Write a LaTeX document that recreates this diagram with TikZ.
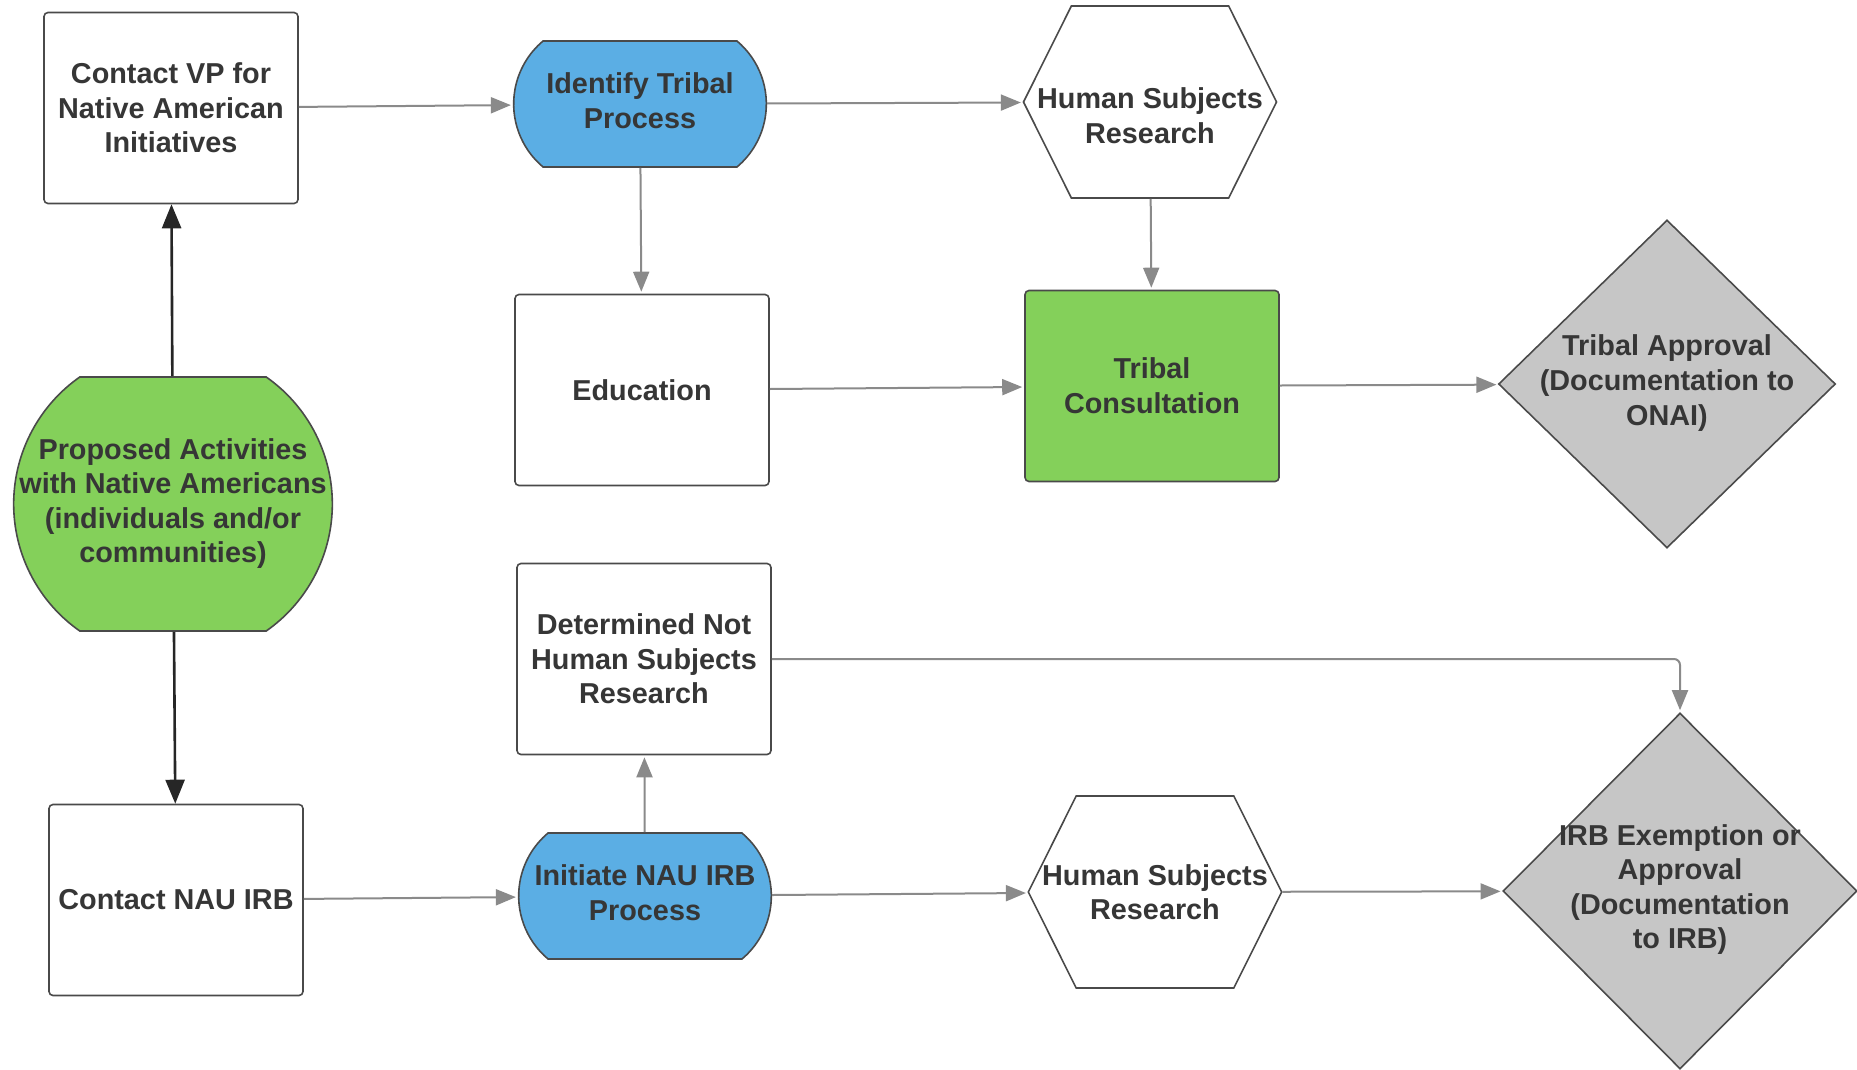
\documentclass[tikz,border=0pt]{standalone}
\usepackage{fontspec}
\setmainfont{Liberation Sans}
\usetikzlibrary{shapes.geometric, shapes.misc, shapes.symbols, arrows.meta}

\definecolor{boxline}{HTML}{4A4A4A}
\definecolor{txt}{HTML}{363636}
\definecolor{lgreen}{HTML}{84D05A}
\definecolor{lblue}{HTML}{5BAEE4}
\definecolor{lgray}{HTML}{C6C6C6}
\definecolor{arrowgray}{HTML}{8A8A8A}
% text that may run into the curved ends of a pill
\newcommand*{\Narrow}[2][0pt]{\makebox[#1][c]{\begin{tabular}{@{}c@{}}#2\end{tabular}}}

\begin{document}
\begin{tikzpicture}[x=0.5pt, y=-0.5pt,
    every node/.style={font=\fontsize{14.4}{17.3}\selectfont\bfseries, text=txt, align=center},
    stepbox/.style={draw=boxline, line width=0.8pt, rounded corners=2pt, fill=white, minimum width=127pt, minimum height=95.5pt},
    processpill/.style={rounded rectangle, rounded rectangle arc length=100, draw=boxline, line width=0.8pt, fill=lblue, minimum width=133pt, minimum height=63pt},
    startbox/.style={rounded rectangle, rounded rectangle arc length=110, draw=boxline, line width=0.8pt, fill=lgreen, minimum width=166pt, minimum height=127pt},
    hexbox/.style={signal, signal to=west and east, signal pointer angle=127, draw=boxline, line width=0.8pt, fill=white, inner xsep=-17pt, minimum width=126.5pt, minimum height=96pt},
    decision/.style={diamond, draw=boxline, line width=0.8pt, fill=lgray, inner sep=0pt},
    flow/.style={draw=arrowgray, line width=1pt, -{Triangle[length=10pt, width=8pt, fill=arrowgray]}, shorten >=1pt},
    mainflow/.style={draw=black!85, line width=1.3pt, -{Triangle[length=12pt, width=9.5pt]}}]
    \useasboundingbox (0,0) rectangle (1857,1070);
    % Left column
    \node[startbox] (proposed) at (173,504) {\Narrow{Proposed Activities\\with Native Americans\\(individuals and/or\\communities)}};
    \node[stepbox] (vp) at (171,108) {Contact VP for\\Native American\\Initiatives};
    \node[stepbox] (nauirb) at (176,900) {Contact NAU IRB};
    % Middle column
    \node[processpill] (identify) at (640,104) {\Narrow{Identify Tribal\\Process}};
    \node[stepbox] (education) at (642,390) {Education};
    \node[stepbox] (nothsr) at (644,659) {Determined Not\\Human Subjects\\Research};
    \node[processpill] (initiate) at (645,896) {\Narrow{Initiate NAU IRB\\Process}};
    % Right column
    \node[hexbox, label={[yshift=-7pt]center:{Human Subjects\\Research}}] (hsrtop) at (1150,102) {};
    \node[stepbox, fill=lgreen] (consult) at (1152,386) {Tribal\\Consultation};
    \node[hexbox] (hsrbottom) at (1155,892) {Human Subjects\\Research};
    \node[decision, minimum width=168.5pt, minimum height=164pt,
        label={[yshift=0.5pt]center:{Tribal Approval\\(Documentation to\\ONAI)}}] (tribalok) at (1667,384) {};
    \node[decision, minimum width=177pt, minimum height=178pt,
        label={[yshift=0.7pt]center:{IRB Exemption or\\Approval\\(Documentation\\to IRB)}}] (irbok) at (1680,891) {};
    % Dark arrows
    \draw[mainflow] (proposed) -- (vp);
    \draw[mainflow] (proposed) -- (nauirb);
    % Tribal path
    \draw[flow] (vp) -- (identify);
    \draw[flow] (identify) -- (hsrtop);
    \draw[flow] (identify) -- (education);
    \draw[flow] (hsrtop) -- (consult);
    \draw[flow] (education) -- (consult);
    \draw[flow] (consult) -- (tribalok);
    % IRB path
    \draw[flow] (nauirb) -- (initiate);
    \draw[flow] (initiate) -- (nothsr);
    \draw[flow] (initiate) -- (hsrbottom);
    \draw[flow] (hsrbottom) -- (irbok);
    \draw[flow, rounded corners=3pt] (nothsr.east) -| (irbok.north);
\end{tikzpicture}
\end{document}
